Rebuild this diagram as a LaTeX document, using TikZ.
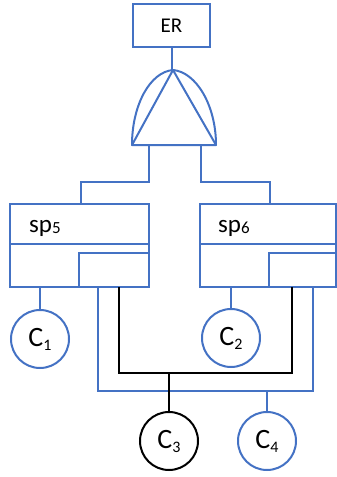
\documentclass[tikz,border=0pt]{standalone}
\usepackage{fontspec}
\setmainfont{Carlito}
\definecolor{gblue}{HTML}{4472C4}
\begin{document}
\begin{tikzpicture}[x=1pt,y=-1pt,
  bl/.style={draw=gblue,line width=2pt},
  bk/.style={draw=black,line width=2pt},
  boxn/.style={bl,rectangle,inner sep=0pt},
  comp/.style={circle,line width=2pt,minimum size=58pt,inner sep=0pt,font=\fontsize{28}{30}\selectfont}]
\useasboundingbox (0,0) rectangle (337,477);
% ER
\node[boxn,minimum width=77pt,minimum height=43pt,font=\fontsize{21}{24}\selectfont] (er) at (171.5,25.5) {ER};
% gate
\coordinate (apex) at (173,70);
\coordinate (gbl) at (132,145);
\coordinate (gbr) at (216,145);
\draw[bl,line join=round] (gbl) .. controls (132,105) and (150,72) .. (apex) .. controls (196,72) and (216,105) .. (gbr) -- cycle;
\draw[bl,line join=round] (gbl) -- (apex) -- (gbr);
\draw[bl] (er.south) -- (er.south |- apex);
\coordinate (gl) at (149,145);
\coordinate (gr) at (201,145);
% sp5
\node[boxn,minimum width=139pt,minimum height=83pt] (sp5) at (79.5,245.5) {};
\draw[bl] (sp5.west |- 0,244) -- (sp5.east |- 0,244);
\node[boxn,minimum width=70pt,minimum height=34pt] (in5) at (114,270) {};
\node[anchor=base west,inner sep=0pt] (t5) at (29,232) {\fontsize{25}{28}\selectfont sp\raisebox{-1.5pt}{\fontsize{17}{20}\selectfont 5}};
% sp6
\node[boxn,minimum width=136pt,minimum height=83pt] (sp6) at (268,245.5) {};
\draw[bl] (sp6.west |- 0,244) -- (sp6.east |- 0,244);
\node[boxn,minimum width=67pt,minimum height=34pt] (in6) at (302.5,270) {};
\node[anchor=base west,inner sep=0pt] (t6) at (218,232) {\fontsize{25}{28}\selectfont sp\raisebox{-1.5pt}{\fontsize{17}{20}\selectfont 6}};
% gate to sp
\draw[bl] (gl) -- (149,182) -| (sp5.north -| 81,0);
\draw[bl] (gr) -- (201,182) -| (sp6.north -| 270,0);
% circles
\node[comp,draw=gblue] (c1) at (40,339) {C\raisebox{-4pt}{\fontsize{16}{18}\selectfont 1}};
\node[comp,draw=gblue] (c2) at (231,338) {C\raisebox{-4pt}{\fontsize{16}{18}\selectfont 2}};
\node[comp,draw=black] (c3) at (169,441) {C\raisebox{-4pt}{\fontsize{16}{18}\selectfont 3}};
\node[comp,draw=gblue] (c4) at (267,441) {C\raisebox{-4pt}{\fontsize{16}{18}\selectfont 4}};
\draw[bl] (sp5.south -| c1.north) -- (c1.north);
\draw[bl] (sp6.south -| c2.north) -- (c2.north);
% blue loop
\coordinate (b5) at (98,287);
\coordinate (b6) at (313,287);
\draw[bl,line join=miter] (b5) -- (98,391) -- (313,391) -- (b6);
\draw[bl] (c4.north) -- (c4.north |- 0,391);
% black loop
\coordinate (k5) at (119,287);
\coordinate (k6) at (292,287);
\draw[bk,line join=miter] (k5) -- (119,373) -- (292,373) -- (k6);
\draw[bk] (c3.north) -- (c3.north |- 0,373);
\end{tikzpicture}
\end{document}
